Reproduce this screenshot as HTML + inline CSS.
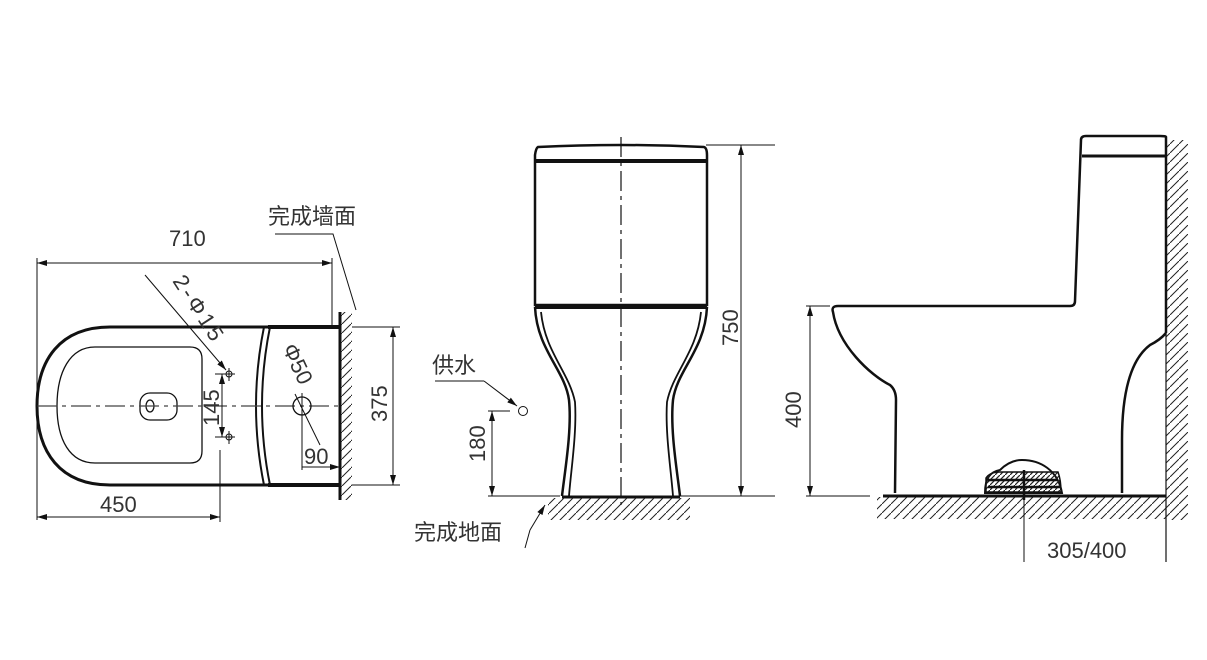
<!DOCTYPE html>
<html><head><meta charset="utf-8"><style>
html,body{margin:0;padding:0;background:#fff;}
svg{display:block;}
text{font-family:"Liberation Sans","Noto Sans CJK SC",sans-serif;fill:#333;}
</style></head><body>
<svg width="1207" height="660" viewBox="0 0 1207 660" xmlns="http://www.w3.org/2000/svg">
<defs>
<pattern id="h" width="9" height="9" patternUnits="userSpaceOnUse">
<path d="M-1,10 L10,-1" stroke="#222" stroke-width="1"/>
</pattern>
<pattern id="h2" width="5" height="5" patternUnits="userSpaceOnUse">
<path d="M-1,6 L6,-1" stroke="#222" stroke-width="1.2"/>
</pattern>
<marker id="a" markerWidth="10" markerHeight="6" refX="10" refY="3" orient="auto-start-reverse" markerUnits="userSpaceOnUse">
<path d="M0,0 L10,3 L0,6 z" fill="#111"/>
</marker>
</defs>
<g fill="none" stroke="#111">
<!-- TOP VIEW -->
<path d="M340,327 L110,327 C60,327 37,360 37,406 C37,452 60,485 110,485 L340,485" stroke-width="3"/>
<path d="M268,327 L340,327 M268,485 L340,485" stroke-width="4"/>
<path d="M95,347 L190,347 Q202,347 202,359 L202,451 Q202,463 190,463 L95,463 C70,463 57,440 57,406 C57,372 70,347 95,347 Z" stroke-width="1.3"/>
<rect x="140" y="393" width="37" height="27" rx="10" stroke-width="1.3"/>
<ellipse cx="150" cy="406" rx="4" ry="6" stroke-width="1.3"/>
<path d="M270,327 Q254,406 270,485" stroke-width="2"/>
<path d="M264,327 Q248,406 264,485" stroke-width="2"/>
<rect x="340" y="312" width="12" height="188" fill="url(#h)" stroke="none"/>
<line x1="340" y1="312" x2="340" y2="500" stroke-width="3"/>
<line x1="37" y1="406" x2="340" y2="406" stroke-dasharray="20,5,4,5" stroke-width="1.2" stroke="#444"/>
<path d="M37,258 L37,520 M332,258 L332,327 M220,450 L220,522" stroke-width="1"/>
<line x1="37" y1="263" x2="332" y2="263" marker-start="url(#a)" marker-end="url(#a)"/>
<line x1="37" y1="517" x2="220" y2="517" marker-start="url(#a)" marker-end="url(#a)"/>
<path d="M352,327 L400,327 M352,485 L400,485"/>
<line x1="393" y1="327" x2="393" y2="485" marker-start="url(#a)" marker-end="url(#a)"/>
<path d="M215,374 L235,374 M229,368 L229,381 M215,437 L235,437 M229,431 L229,444"/>
<circle cx="229" cy="374" r="3"/><circle cx="229" cy="437" r="3"/>
<line x1="222" y1="374" x2="222" y2="437" marker-start="url(#a)" marker-end="url(#a)"/>
<line x1="145" y1="275" x2="226" y2="370" marker-end="url(#a)"/>
<circle cx="302" cy="406" r="9" stroke-width="1.3"/>
<path d="M302,393 L302,470"/>
<line x1="320" y1="445" x2="295" y2="394"/>
<line x1="302" y1="467" x2="340" y2="467" marker-end="url(#a)"/>
<path d="M275,234 L333,234 L356,310" />
<!-- FRONT VIEW -->
<path d="M538,147 Q621,143 704,147 Q707,148 707,155 L707,305 L535,305 L535,155 Q536,148 538,147 Z" stroke-width="2.5"/>
<line x1="535" y1="161" x2="707" y2="161" stroke-width="4"/>
<line x1="535" y1="307" x2="707" y2="307" stroke-width="4"/>
<path d="M535,307 C537,350 565,370 569,400 C572,430 565,470 562,496" stroke-width="2.5"/>
<path d="M541,312 C545,352 569,372 575,402 C577,432 571,470 569,496" stroke-width="1.8"/>
<path d="M707,307 C705,350 677,370 673,400 C670,430 677,470 680,496" stroke-width="2.5"/>
<path d="M701,312 C697,352 673,372 667,402 C665,432 671,470 673,496" stroke-width="1.8"/>
<line x1="562" y1="497" x2="680" y2="497" stroke-width="3"/>
<rect x="548" y="498" width="142" height="22" fill="url(#h)" stroke="none"/>
<line x1="621" y1="137" x2="621" y2="505" stroke-dasharray="20,5,4,5" stroke-width="1.2"/>
<path d="M706,145 L775,145 M680,496 L775,496 M488,496 L560,496 M488,411 L510,411"/>
<line x1="741" y1="145" x2="741" y2="496" marker-start="url(#a)" marker-end="url(#a)"/>
<line x1="492" y1="411" x2="492" y2="496" marker-start="url(#a)" marker-end="url(#a)"/>
<circle cx="523" cy="411" r="4.5"/>
<path d="M435,381 L484,381"/>
<line x1="484" y1="381" x2="517" y2="406" marker-end="url(#a)"/>
<path d="M525,548 L530,530"/>
<line x1="530" y1="530" x2="545" y2="505" marker-end="url(#a)"/>
<!-- SIDE VIEW -->
<rect x="877" y="497" width="289" height="22" fill="url(#h)" stroke="none"/>
<rect x="1166" y="140" width="22" height="380" fill="url(#h)" stroke="none"/>
<line x1="1166" y1="140" x2="1166" y2="562" stroke-width="1.2"/>
<line x1="883" y1="496" x2="1166" y2="496" stroke-width="3"/>
<path d="M1166,333 L1166,137 Q1166,136 1160,136 L1086,136 Q1081,136 1081,140 L1075,301 Q1075,306 1070,306 L838,306 Q831,306 833,312 C838,345 870,375 890,385 Q896,390 896,400 L895,493" stroke-width="2.5"/>
<line x1="1082" y1="156" x2="1166" y2="156" stroke-width="3"/>
<path d="M1166,333 Q1160,340 1150,345 C1130,360 1122,395 1122,440 L1122,493" stroke-width="2.5"/>
<path d="M985,493 C985,478 990,472 1000,470 C1008,462 1015,460 1022,460 C1040,460 1058,470 1062,493 Z" stroke-width="2"/>
<path d="M986,492 L986,478 Q990,472 1000,472 L1058,472 Q1061,480 1061,492 Z" fill="url(#h2)" stroke="#111" stroke-width="1.5"/>
<path d="M988,480 L1058,480 M988,487 L1060,487" stroke-width="2.5"/>
<path d="M1024,470 L1024,500" stroke-width="2.5"/>
<path d="M1024,500 L1024,562"/>
<path d="M806,306 L830,306 M806,496 L870,496"/>
<line x1="810" y1="306" x2="810" y2="496" marker-start="url(#a)" marker-end="url(#a)"/>
</g>
<g font-size="22">
<text x="169" y="246">710</text>
<text x="100" y="512">450</text>
<text x="268" y="224">完成墙面</text>
<text x="304" y="464">90</text>
<text transform="translate(387,422) rotate(-90)">375</text>
<text transform="translate(219,426) rotate(-90)">145</text>
<text transform="translate(172,281) rotate(57)" letter-spacing="3">2-Φ15</text>
<text transform="translate(282,348) rotate(65)">Φ50</text>
<text x="432" y="373">供水</text>
<text transform="translate(485,462) rotate(-90)">180</text>
<text transform="translate(738,346) rotate(-90)">750</text>
<text x="414" y="540">完成地面</text>
<text transform="translate(801,428) rotate(-90)">400</text>
<text x="1047" y="558">305/400</text>
</g>
</svg>
</body></html>
